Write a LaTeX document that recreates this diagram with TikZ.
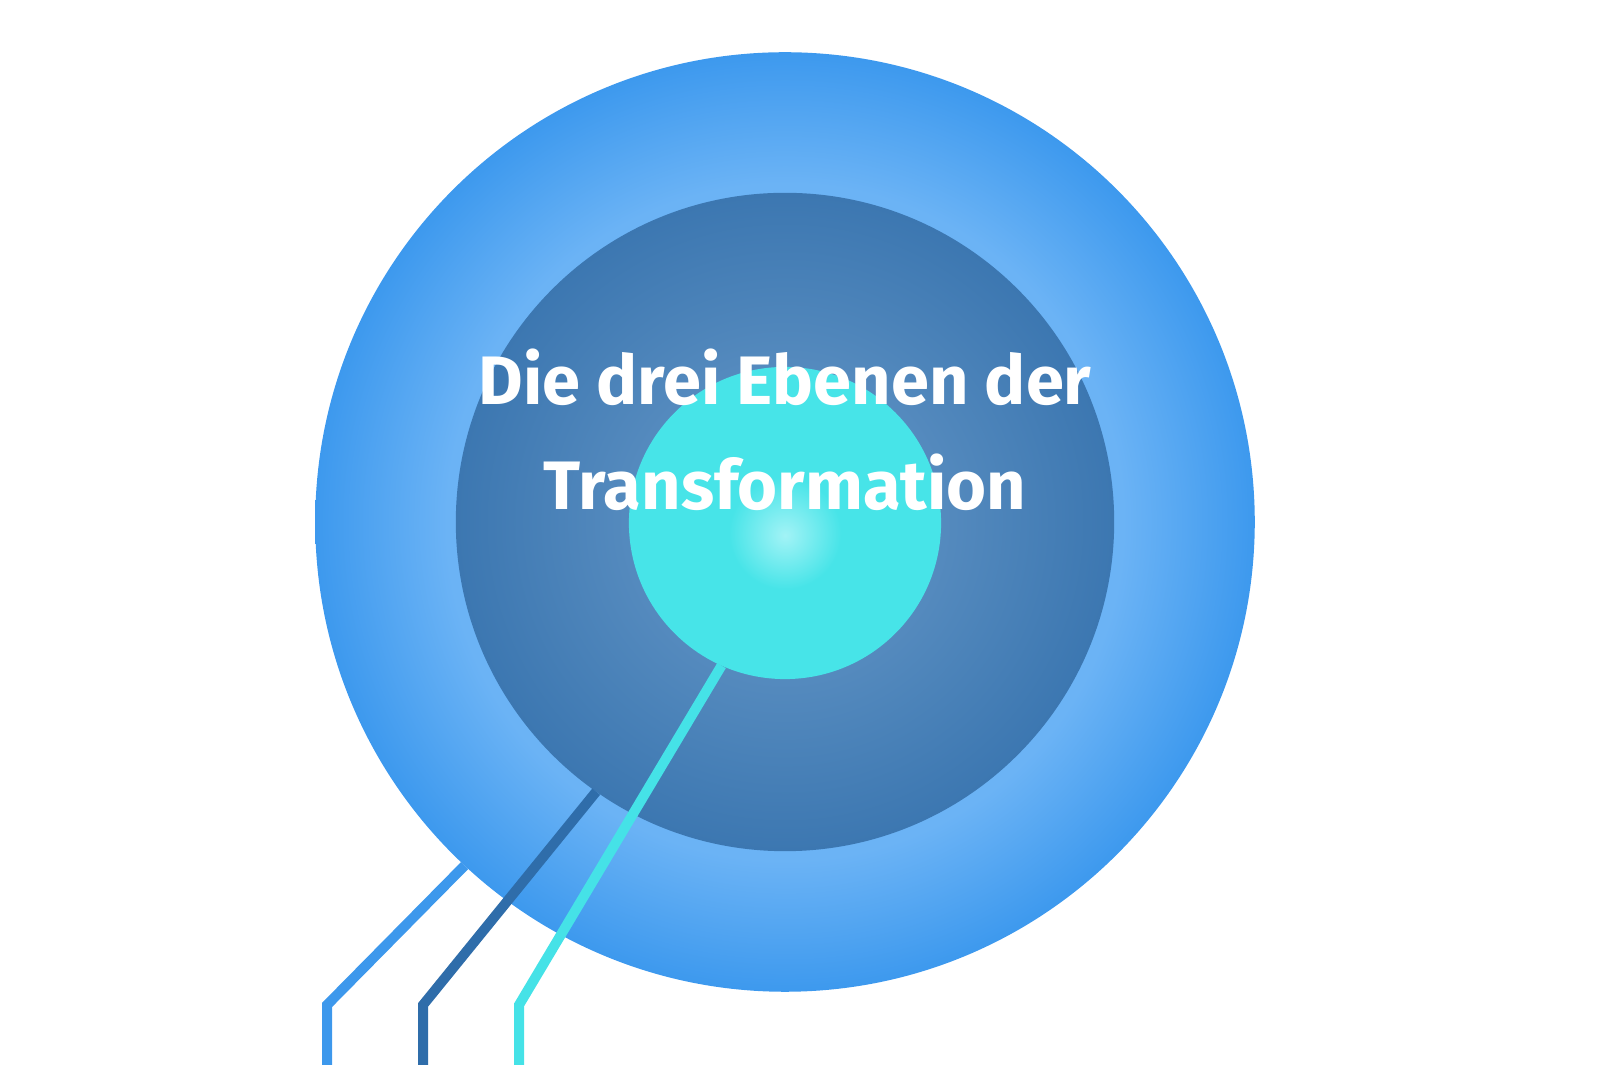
\documentclass[tikz,border=0pt]{standalone}
\usepackage{fontspec}
\usepackage{xcolor}
\setmainfont{Fira Sans}
\definecolor{ringdark}{HTML}{3D99EE}
\definecolor{ringlight}{HTML}{6BB3F5}
\definecolor{middark}{HTML}{3C77B1}
\definecolor{midlight}{HTML}{5C90C2}
\definecolor{coreteal}{HTML}{47E4E8}
\definecolor{corelight}{HTML}{A2F3F6}
\definecolor{lineblue}{HTML}{3D98EC}
\definecolor{linemid}{HTML}{2F6DAA}
\definecolor{lineteal}{HTML}{45E2E7}
\pgfdeclareradialshading{outerring}{\pgfpoint{0bp}{0bp}}{color(0bp)=(ringlight); color(18bp)=(ringlight); color(25bp)=(ringdark); color(50bp)=(ringdark)}
\pgfdeclareradialshading{midring}{\pgfpoint{0bp}{0bp}}{color(0bp)=(midlight); color(8bp)=(midlight); color(25bp)=(middark); color(50bp)=(middark)}
\pgfdeclareradialshading{corering}{\pgfpoint{0bp}{-2bp}}{color(0bp)=(corelight); color(9bp)=(coreteal); color(50bp)=(coreteal)}
\begin{document}
\begin{tikzpicture}[x=0.01cm,y=-0.01cm]
\useasboundingbox (0,0) rectangle (1600,1065);
\node[shape=circle,inner sep=0pt,outer sep=0pt,minimum size=9.39cm,shading=outerring] (O) at (785,522) {};
\node[shape=circle,inner sep=0pt,outer sep=0pt,minimum size=6.58cm,shading=midring] (M) at (785,522) {};
\node[shape=circle,inner sep=0pt,outer sep=0pt,minimum size=3.12cm,shading=corering] (I) at (785,523) {};
\coordinate (Ob) at (327,1005);
\coordinate (Oe) at (327,1065);
\coordinate (Mb) at (423,1005);
\coordinate (Me) at (423,1065);
\coordinate (Ib) at (519,1005);
\coordinate (Ie) at (519,1065);
\draw [lineblue,line width=0.1cm] (O.227) -- (Ob) -- (Oe);
\draw [linemid,line width=0.1cm] (M.235) -- (Mb) -- (Me);
\draw [lineteal,line width=0.1cm] (I.246) -- (Ib) -- (Ie);
\node[text=white,align=center,font=\bfseries\fontsize{19.5}{30}\selectfont] (T) at (785,430) {Die drei Ebenen der\\Transformation};
\end{tikzpicture}
\end{document}
